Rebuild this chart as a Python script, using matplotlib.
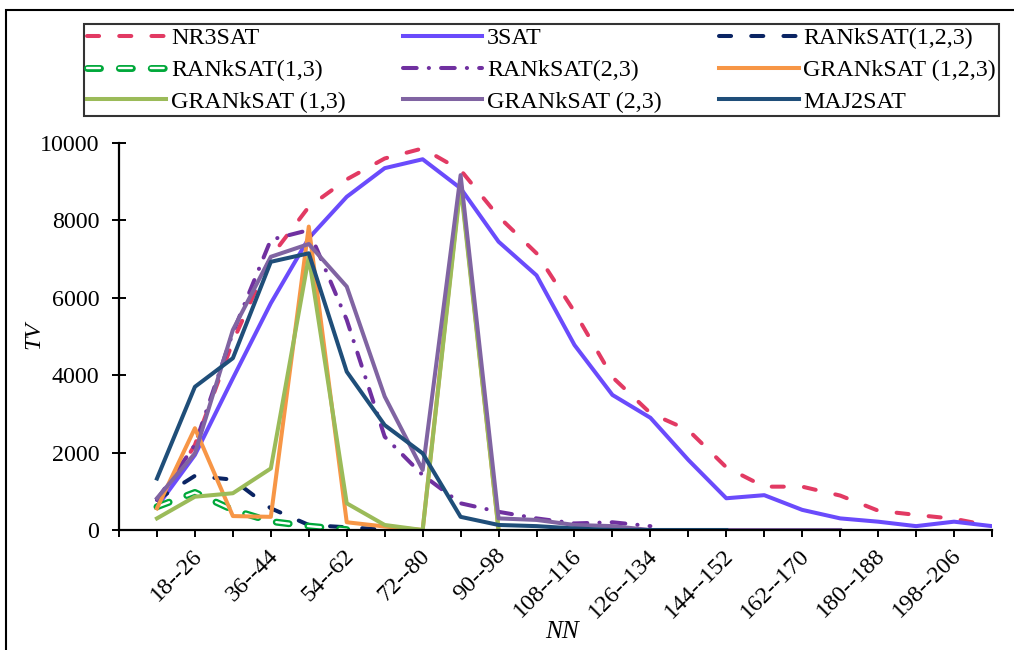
import numpy as np
import matplotlib
matplotlib.use("Agg")
import matplotlib.pyplot as plt
import matplotlib.patheffects as pe
from matplotlib.patches import Rectangle

nan = np.nan
categories = [f"{9 + 9 * i}--{17 + 9 * i}" for i in range(23)]

NR3SAT = [600, 2200, 4870, 7060, 8350, 9060, 9600, 9860, 9300, 8100, 7150, 5640,
          3950, 3020, 2580, 1620, 1120, 1120, 890, 500, 390, 290, 100]
SAT3 = [600, 1940, 3920, 5860, 7540, 8610, 9350, 9580, 8830, 7450, 6580, 4780,
        3490, 2900, 1810, 820, 900, 520, 300, 215, 100, 215, 100]
RAN123 = [780, 1400, 1300, 560, 130, 70, 10] + [nan] * 16
RAN13 = [600, 970, 520, 220, 100, 10] + [nan] * 17
RAN23 = [780, 2200, 5100, 7500, 7750, 5430, 2410, 1420, 690, 470, 300, 170,
         200, 100] + [nan] * 9
GRAN123 = [560, 2630, 360, 340, 7840, 200, 90, 0, 9000, 0] + [nan] * 13
GRAN13 = [300, 860, 950, 1590, 7060, 690, 130, 0, 8900, 0] + [nan] * 13
GRAN23 = [820, 1980, 5170, 7060, 7390, 6290, 3450, 1550, 9170, 300, 260, 130,
          100, 0, 0, 0, 0, 0, 0] + [nan] * 4
MAJ2SAT = [1330, 3700, 4440, 6930, 7150, 4090, 2710, 1980, 340, 130, 100, 40,
           0, 0, 0, 0] + [nan] * 7

names = ["NR3SAT", "3SAT", "RANkSAT(1,2,3)", "RANkSAT(1,3)", "RANkSAT(2,3)",
         "GRANkSAT (1,2,3)", "GRANkSAT (1,3)", "GRANkSAT (2,3)", "MAJ2SAT"]
series = [NR3SAT, SAT3, RAN123, RAN13, RAN23, GRAN123, GRAN13, GRAN23, MAJ2SAT]

plt.rcParams['font.family'] = ['Liberation Serif', 'DejaVu Serif']
FS = 17.3

fig = plt.figure(figsize=(10.14, 6.5), dpi=100)
ax = fig.add_axes([119 / 1014, 1 - 530 / 650, (992 - 119) / 1014, (530 - 143) / 650])

x = np.arange(len(categories))
lw = 2.9
styles = [
    dict(color='#E23A63', ls=(0, (3.0, 5.0)), dash_capstyle='round'),
    dict(color='#6A4BFC', ls='-'),
    dict(color='#0A2463', ls=(0, (3.0, 5.0)), dash_capstyle='round'),
    dict(color='white', ls=(0, (5.5, 8.0)), dash_capstyle='round', lw=1.7,
         path_effects=[pe.Stroke(linewidth=5.0, foreground='#00A83A', capstyle='round'), pe.Normal()]),
    dict(color='#7030A0', ls=(0, (3.4, 3.0, 0.05, 3.0)), dash_capstyle='round'),
    dict(color='#F79646', ls='-'),
    dict(color='#9BBB59', ls='-'),
    dict(color='#8064A2', ls='-'),
    dict(color='#1F4E79', ls='-'),
]
handles = []
for name, vals, st in zip(names, series, styles):
    st = dict(st)
    w = st.pop('lw', lw)
    h, = ax.plot(x, vals, lw=w, label=name, solid_joinstyle='round', **st)
    handles.append(h)

ax.set_xlim(-1, 22)
ax.set_ylim(0, 10000)
ax.set_yticks(np.arange(0, 10001, 2000))
ax.set_xticks(np.arange(-1, 23), minor=False)
ax.set_xticklabels([""] * 24)
for i in range(1, 22, 2):
    ax.text(i + 0.1, -0.058, categories[i], transform=ax.get_xaxis_transform(),
            rotation=45, ha='right', va='center', rotation_mode='anchor', fontsize=FS)

for s in ['top', 'right']:
    ax.spines[s].set_visible(False)
for s in ['left', 'bottom']:
    ax.spines[s].set_linewidth(1.6)
ax.tick_params(axis='y', direction='inout', length=9.4, width=1.4, labelsize=FS, pad=9.5)
ax.tick_params(axis='x', direction='out', length=5, width=1.4)

ax.set_ylabel("TV", fontstyle='italic', fontsize=FS)
ax.yaxis.set_label_coords(-0.086, 0.504)
ax.set_xlabel("NN", fontstyle='italic', fontsize=FS + 1)
ax.xaxis.set_label_coords(0.507, -0.264)
ax.xaxis.label.set_va('center')

order = [0, 3, 6, 1, 4, 7, 2, 5, 8]
leg = fig.legend([handles[k] for k in order], [names[k] for k in order], ncol=3,
                 loc='center', bbox_to_anchor=(84 / 1014, 1 - 119 / 650, 915 / 1014, 98 / 650),
                 mode='expand', fontsize=FS, frameon=True, fancybox=False,
                 edgecolor='black', handlelength=3.3, handletextpad=0.2,
                 labelspacing=0.42, borderpad=0.12, columnspacing=1.0, borderaxespad=0)
leg.get_frame().set_linewidth(1.5)

fig.add_artist(Rectangle((6 / 1014, -0.1), 1.2, 1 - 10 / 650 + 0.1, transform=fig.transFigure,
                         fill=False, edgecolor='black', lw=1.5))

fig.savefig("out.png", dpi=100)
